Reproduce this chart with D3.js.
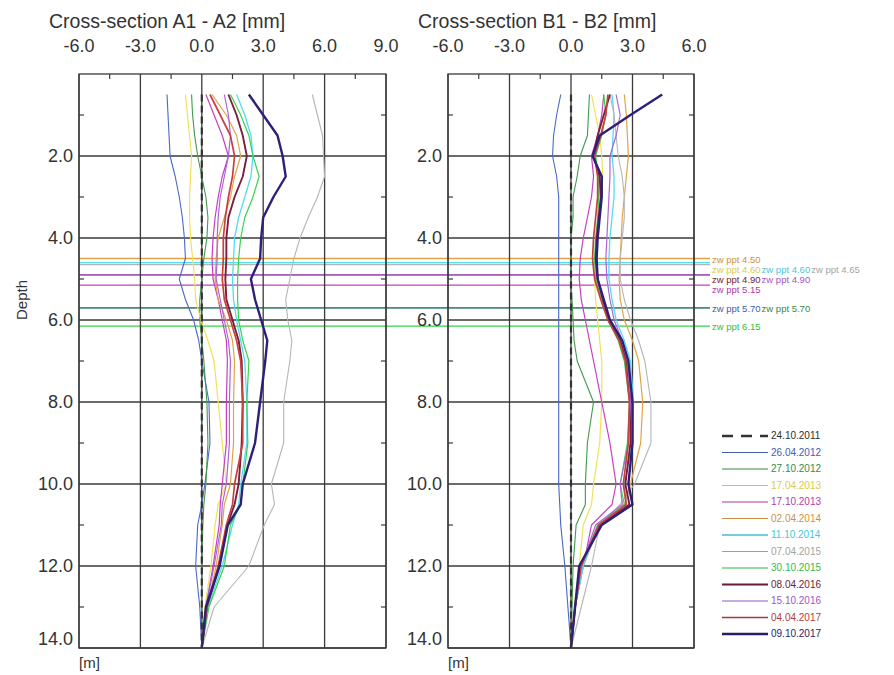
<!DOCTYPE html>
<html lang="en">
<head>
  <meta charset="UTF-8">
  <title>Cross-sections A1-A2 / B1-B2</title>
  <script src="https://d3js.org/d3.v7.min.js"></script>
  <style>
    body {
      margin: 0;
      padding: 0;
      background: #fff;
      font-family: "Liberation Sans", Arial, sans-serif;
    }
    .grid line { stroke: #3a3a3a; stroke-width: 1.3px; }
    .frame { fill: none; stroke: #3a3a3a; stroke-width: 1.3px; }
    .tick-lbl { font-size: 18px; fill: #333; }
    .title { font-size: 19.5px; fill: #333; }
    .series { fill: none; stroke-linejoin: round; }
    .zw-lbl { font-size: 9.5px; font-family: "Liberation Sans Narrow", "Liberation Sans", Arial, sans-serif; }
    .leg-lbl { font-size: 10px; }
  </style>
</head>
<body>
  <div id="chart"></div>

  <script>
    // measurement dates (legend order)
    const dates = ["24.10.2011", "26.04.2012", "27.10.2012", "17.04.2013", "17.10.2013",
      "02.04.2014", "11.10.2014", "07.04.2015", "30.10.2015", "08.04.2016",
      "15.10.2016", "04.04.2017", "09.10.2017"];
    const colors = ["#333333", "#4a68c8", "#3f9a4a", "#efe25a", "#c53fbf", "#e1a24a",
      "#52dcef", "#b5b5b5", "#38d24f", "#7a1f3c", "#ad62db", "#c8403f", "#2c2078"];
    const widths = [2.2, 1.1, 1.1, 1.2, 1.2, 1.2, 1.3, 1.1, 1.2, 1.9, 1.2, 1.7, 2.4];

    // depth of readings [m]
    const depths = [0.5, 1, 1.5, 2, 2.5, 3, 3.5, 4, 4.5, 5, 5.5, 6, 6.5, 7, 8, 9, 10, 10.5, 11, 12, 13, 14];

    // cross-section A1 - A2 [mm], one row per date
    const sectionA = [
      [0, 0, 0, 0, 0, 0, 0, 0, 0, 0, 0, 0, 0, 0, 0, 0, 0, 0, 0, 0, 0, 0],
      [-1.7, -1.65, -1.6, -1.55, -1.3, -1.1, -0.95, -0.85, -0.8, -1.1, -0.8, -0.4, -0.15, 0.0, 0.35, 0.4, 0.15, 0.0, -0.2, -0.3, -0.1, 0],
      [-0.5, -0.45, -0.35, -0.2, 0.0, 0.2, 0.3, 0.25, 0.1, 0.0, -0.1, -0.1, 0.0, 0.1, 0.25, 0.3, 0.2, 0.1, 0.05, 0.0, 0.0, 0],
      [-0.8, -0.7, -0.6, -0.5, -0.55, -0.6, -0.6, -0.55, -0.45, -0.35, -0.3, -0.05, 0.3, 0.6, 0.8, 1.0, 1.2, 0.8, 0.65, 0.45, 0.15, 0],
      [0.2, 0.6, 1.0, 1.3, 1.0, 0.8, 0.65, 0.55, 0.5, 0.55, 0.8, 1.0, 1.2, 1.25, 1.2, 1.2, 1.0, 0.9, 0.85, 0.55, 0.2, 0],
      [0.5, 1.2, 1.7, 1.9, 1.6, 1.4, 1.1, 0.8, 0.7, 0.65, 0.8, 1.2, 1.5, 1.6, 1.55, 1.55, 1.4, 1.1, 1.0, 0.7, 0.25, 0],
      [1.7, 2.1, 2.4, 2.5, 2.4, 2.1, 1.8, 1.6, 1.55, 1.5, 1.55, 1.7, 1.9, 2.1, 2.2, 2.2, 1.9, 1.8, 1.5, 1.0, 0.3, 0],
      [5.4, 5.65, 5.9, 5.95, 6.0, 5.65, 5.2, 4.8, 4.5, 4.3, 4.1, 4.2, 4.4, 4.3, 4.0, 4.0, 3.4, 3.55, 3.05, 2.3, 0.6, 0],
      [1.4, 1.9, 2.3, 2.5, 2.8, 2.5, 2.1, 1.9, 1.8, 1.75, 1.75, 1.8, 2.0, 2.3, 2.2, 2.25, 2.0, 1.9, 1.4, 1.1, 0.35, 0],
      [1.3, 1.7, 2.0, 2.2, 2.0, 1.6, 1.3, 1.2, 1.2, 1.15, 1.2, 1.5, 1.8, 1.95, 2.0, 1.95, 1.8, 1.6, 1.25, 0.85, 0.25, 0],
      [1.1, 1.3, 1.4, 1.3, 1.1, 0.9, 0.8, 0.75, 0.75, 0.7, 0.9, 1.1, 1.3, 1.4, 1.35, 1.35, 1.2, 1.0, 0.95, 0.6, 0.2, 0],
      [0.4, 0.9, 1.4, 1.6, 1.5, 1.3, 1.15, 1.05, 1.05, 1.0, 1.1, 1.4, 1.7, 1.9, 2.0, 2.0, 1.6, 1.5, 1.2, 0.8, 0.25, 0],
      [2.3, 3.0, 3.7, 3.95, 4.1, 3.5, 3.0, 2.9, 2.85, 2.4, 2.6, 2.9, 3.2, 3.1, 2.85, 2.6, 2.0, 1.9, 1.27, 0.87, 0.2, 0]
    ];

    // cross-section B1 - B2 [mm], one row per date
    const sectionB = [
      [0, 0, 0, 0, 0, 0, 0, 0, 0, 0, 0, 0, 0, 0, 0, 0, 0, 0, 0, 0, 0, 0],
      [-0.5, -0.7, -0.85, -0.9, -0.7, -0.6, -0.6, -0.6, -0.6, -0.6, -0.6, -0.6, -0.6, -0.6, -0.6, -0.6, -0.6, -0.55, -0.5, -0.3, -0.15, 0],
      [0.9, 0.85, 0.8, 0.45, 0.3, 0.1, 0.1, 0.0, 0.0, 0.0, 0.05, 0.1, 0.15, 0.3, 1.1, 0.8, 0.7, 0.7, 0.25, 0.1, 0.05, 0],
      [1.0, 1.2, 1.4, 1.5, 1.55, 1.5, 1.4, 1.3, 1.2, 1.15, 1.2, 1.3, 1.4, 1.5, 1.5, 1.4, 1.1, 1.0, 0.6, 0.4, 0.15, 0],
      [1.6, 1.5, 1.3, 1.0, 1.1, 1.0, 0.8, 0.6, 0.45, 0.4, 0.5, 0.7, 0.9, 1.1, 1.5, 1.9, 2.2, 2.0, 1.0, 0.6, 0.2, 0],
      [2.6, 2.7, 2.75, 2.8, 2.7, 2.6, 2.5, 2.45, 2.4, 2.35, 2.4, 2.6, 3.0, 3.3, 3.5, 3.4, 2.9, 2.6, 1.4, 0.6, 0.2, 0],
      [2.0, 2.1, 2.05, 2.0, 2.1, 2.1, 2.0, 1.9, 1.85, 1.85, 2.0, 2.2, 2.6, 2.9, 3.05, 3.0, 2.6, 2.7, 1.3, 0.6, 0.2, 0],
      [1.9, 2.1, 2.2, 2.3, 2.5, 2.6, 2.6, 2.5, 2.4, 2.4, 2.6, 2.9, 3.3, 3.6, 3.9, 3.9, 3.1, 2.4, 1.4, 1.0, 0.5, 0],
      [1.6, 1.7, 1.5, 1.2, 1.35, 1.35, 1.3, 1.2, 1.15, 1.2, 1.5, 1.8, 2.3, 2.6, 2.85, 2.75, 2.4, 2.6, 1.3, 0.5, 0.2, 0],
      [1.9, 1.6, 1.3, 1.1, 1.4, 1.45, 1.35, 1.25, 1.2, 1.3, 1.55, 1.85, 2.4, 2.7, 2.9, 2.9, 2.65, 2.85, 1.4, 0.45, 0.2, 0],
      [2.2, 2.4, 2.2, 1.9, 1.9, 1.85, 1.8, 1.75, 1.7, 1.75, 1.9, 2.1, 2.5, 2.75, 2.9, 2.8, 2.4, 2.5, 1.2, 0.5, 0.2, 0],
      [1.8, 1.7, 1.45, 1.15, 1.3, 1.3, 1.2, 1.1, 1.05, 1.15, 1.45, 1.8, 2.35, 2.65, 2.85, 2.8, 2.55, 2.7, 1.35, 0.5, 0.2, 0],
      [4.45, 2.9, 1.4, 1.05, 1.5, 1.5, 1.4, 1.3, 1.25, 1.3, 1.6, 1.9, 2.5, 2.8, 3.0, 3.0, 2.8, 3.0, 1.5, 0.4, 0.2, 0]
    ];

    // groundwater levels (zw ppt) and the date each belongs to
    const zwDepths = [4.50, 4.60, 4.60, 4.65, 4.90, 4.90, 5.15, 5.70, 5.70, 6.15];
    const zwDate = [5, 3, 6, 7, 9, 10, 4, 1, 2, 8];

    const xTicksA = [-6, -3, 0, 3, 6, 9];
    const xTicksB = [-6, -3, 0, 3, 6];
    const yTicks = [2, 4, 6, 8, 10, 12, 14];

    const width = 894, height = 675;
    const svg = d3.select("#chart").append("svg")
      .attr("width", width)
      .attr("height", height);

    const y = d3.scaleLinear().domain([0, 14]).range([74, 648]);

    const panels = [
      { title: "Cross-section A1 - A2 [mm]", titleX: 49, x: d3.scaleLinear().domain([-6, 9]).range([79, 386]), ticks: xTicksA, values: sectionA },
      { title: "Cross-section B1 - B2 [mm]", titleX: 418, x: d3.scaleLinear().domain([-6, 6]).range([448, 694]), ticks: xTicksB, values: sectionB }
    ];

    // zw ppt horizontal lines go under everything, across both panels
    const zwG = svg.append("g");
    const xLeft = panels[0].x.range()[0];
    const xRightEnd = 710;
    zwG.selectAll("line")
      .data(zwDepths)
      .join("line")
      .attr("x1", xLeft)
      .attr("x2", xRightEnd)
      .attr("y1", d => y(d))
      .attr("y2", d => y(d))
      .attr("stroke", (d, i) => colors[zwDate[i]])
      .attr("stroke-width", 1.4);

    panels.forEach(p => {
      const g = svg.append("g");
      const [x0, x1] = p.x.range();
      const [y0, y1] = y.range();

      // grid
      const grid = g.append("g").attr("class", "grid");
      grid.selectAll("line.v")
        .data(p.ticks)
        .join("line")
        .attr("class", "v")
        .attr("x1", d => p.x(d)).attr("x2", d => p.x(d))
        .attr("y1", y0).attr("y2", y1);
      grid.selectAll("line.h")
        .data(yTicks)
        .join("line")
        .attr("class", "h")
        .attr("x1", x0).attr("x2", x1)
        .attr("y1", d => y(d)).attr("y2", d => y(d));
      g.append("rect")
        .attr("class", "frame")
        .attr("x", x0).attr("y", y0)
        .attr("width", x1 - x0).attr("height", y1 - y0);

      // minor ticks, pointing inwards
      const minorX = p.ticks.slice(0, -1).map(t => t + 1.5);
      g.append("g").selectAll("line")
        .data(minorX)
        .join("line")
        .attr("x1", d => p.x(d)).attr("x2", d => p.x(d))
        .attr("y1", y0).attr("y2", y0 + 5)
        .attr("stroke", "#3a3a3a").attr("stroke-width", 1.2);
      const minorY = d3.range(1, 14, 2);
      [[x0, 5], [x1, -5]].forEach(([xx, len]) => {
        g.append("g").selectAll("line")
          .data(minorY)
          .join("line")
          .attr("x1", xx).attr("x2", xx + len)
          .attr("y1", d => y(d)).attr("y2", d => y(d))
          .attr("stroke", "#3a3a3a").attr("stroke-width", 1.2);
      });

      // tick labels
      g.append("g").selectAll("text")
        .data(p.ticks)
        .join("text")
        .attr("class", "tick-lbl")
        .attr("x", d => p.x(d))
        .attr("y", 52)
        .attr("text-anchor", "middle")
        .text(d => d.toFixed(1));
      g.append("g").selectAll("text")
        .data(yTicks)
        .join("text")
        .attr("class", "tick-lbl")
        .attr("x", x0 - 6)
        .attr("y", d => y(d) + 6 - (d === 14 ? 9 : 0))
        .attr("text-anchor", "end")
        .text(d => d.toFixed(1));
      g.append("text")
        .attr("class", "tick-lbl")
        .style("font-size", "15px")
        .attr("x", x0)
        .attr("y", 668)
        .text("[m]");
      g.append("text")
        .attr("class", "title")
        .attr("x", p.titleX)
        .attr("y", 28)
        .text(p.title);

      // series
      const line = d3.line()
        .x(d => p.x(d[1]))
        .y(d => y(d[0]));
      const order = d3.range(dates.length).slice(1).concat([0]);
      g.append("g").selectAll("path")
        .data(order)
        .join("path")
        .attr("class", "series")
        .attr("stroke", i => colors[i])
        .attr("stroke-width", i => widths[i])
        .attr("stroke-dasharray", i => i === 0 ? "7,4" : null)
        .attr("d", i => line(depths.map((dep, k) => [dep, p.values[i][k]])));
    });

    // zw ppt labels: levels within 0.08 m of a row's first level share that row
    const rows = [];
    zwDepths.forEach((d, i) => {
      const last = rows[rows.length - 1];
      if (last && d - last.d < 0.08) last.items.push({ d, i });
      else rows.push({ d, items: [{ d, i }] });
    });
    let lastY = -Infinity;
    rows.forEach(r => {
      const ly = Math.max(y(r.d) + 1, lastY + 10);
      lastY = ly;
      let xx = xRightEnd + 2;
      r.items.forEach(o => {
        const t = svg.append("text")
          .attr("class", "zw-lbl")
          .attr("x", xx)
          .attr("y", ly + 3)
          .attr("fill", d3.color(colors[zwDate[o.i]]).darker(0.3))
          .text("zw ppt " + o.d.toFixed(2));
        xx += t.node().getComputedTextLength() + 1;
      });
    });

    // depth axis title
    svg.append("text")
      .attr("class", "tick-lbl")
      .style("font-size", "15px")
      .attr("transform", "translate(27,300) rotate(-90)")
      .attr("text-anchor", "middle")
      .text("Depth");

    // legend
    const ly = d3.scalePoint().domain(d3.range(dates.length)).range([435, 633]);
    const leg = svg.append("g");
    leg.selectAll("line")
      .data(d3.range(dates.length))
      .join("line")
      .attr("x1", 722).attr("x2", 768)
      .attr("y1", i => ly(i) + 1).attr("y2", i => ly(i) + 1)
      .attr("stroke", i => i === 0 ? colors[i] : d3.color(colors[i]).darker(0.4))
      .attr("stroke-width", i => i === 0 ? 2.6 : Math.max(1.2, widths[i]))
      .attr("stroke-dasharray", i => i === 0 ? "11,8" : null);
    leg.selectAll("text")
      .data(d3.range(dates.length))
      .join("text")
      .attr("class", "leg-lbl")
      .attr("x", 771)
      .attr("y", i => ly(i) + 4)
      .attr("fill", i => d3.color(colors[i]).darker(0.3))
      .text(i => dates[i]);
  </script>
</body>
</html>
